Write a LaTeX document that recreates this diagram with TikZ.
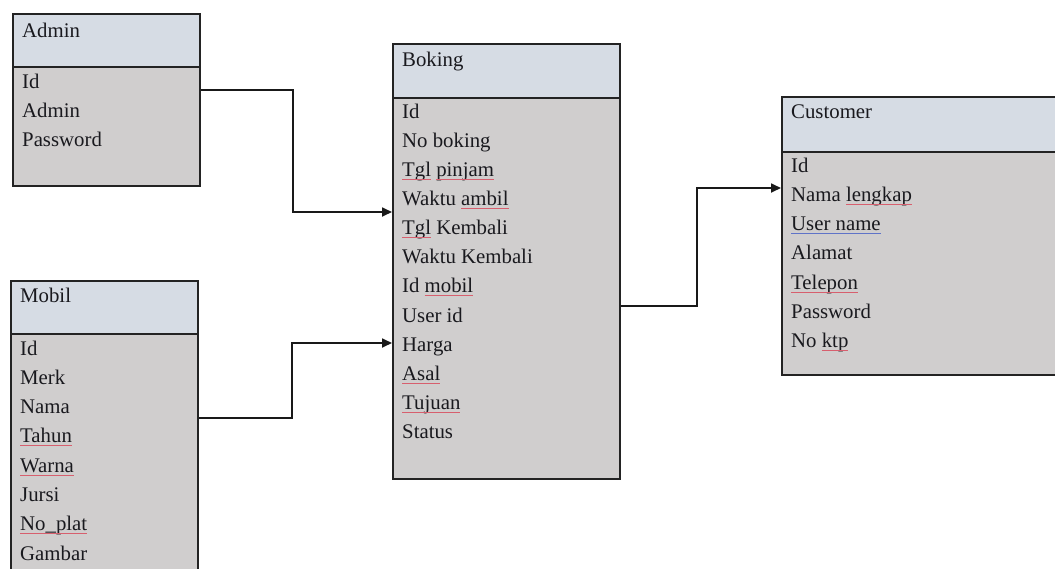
\documentclass[tikz,border=0pt]{standalone}
\usepackage{fontspec}
\setmainfont{Liberation Serif}
\usetikzlibrary{arrows.meta}
\definecolor{hdrfill}{RGB}{214,220,228}
\definecolor{bodyfill}{RGB}{208,206,206}
\definecolor{edgecol}{RGB}{35,35,35}
\definecolor{txtcol}{RGB}{25,25,30}
\definecolor{spellred}{RGB}{215,95,110}
\definecolor{spellblue}{RGB}{95,115,200}
\newsavebox\ulbox
\newcommand\redul[1]{\mbox{}\sbox\ulbox{#1}\usebox\ulbox\llap{\textcolor{spellred}{\rule[-3.5pt]{\wd\ulbox}{1pt}}}}
\newcommand\blueul[1]{\mbox{}\sbox\ulbox{#1}\usebox\ulbox\llap{\textcolor{spellblue}{\rule[-3.5pt]{\wd\ulbox}{1pt}}}}
\begin{document}
\begin{tikzpicture}[x=1pt,y=-1pt,
  boxpart/.style={draw=edgecol, line width=2pt, anchor=north west, inner sep=0pt},
  hdr/.style={boxpart, fill=hdrfill},
  body/.style={boxpart, fill=bodyfill},
  txt/.style={anchor=base west, inner sep=0pt, font=\fontsize{20.8}{25}\selectfont\color{txtcol}},
  conn/.style={draw=black!90, line width=1.7pt},
  arr/.style={conn, -{Triangle[length=10pt,width=9pt]}}]
\useasboundingbox (0,0) rectangle (1055,568);
\clip (0,0) rectangle (1055,568);

% Admin
\node[body, minimum width=187pt, minimum height=119pt] (adminB) at (12,66) {};
\node[hdr, minimum width=187pt, minimum height=53pt] (adminH) at (12,13) {};
\node[txt] (adminT) at (22,37) {Admin};
\foreach \t [count=\i from 0] in {Id,Admin,Password}
  \node[txt] (adminA\i) at (22,{88+29.3*\i}) {\t};

% Mobil
\node[body, minimum width=187pt, minimum height=260pt] (mobilB) at (10,333) {};
\node[hdr, minimum width=187pt, minimum height=53pt] (mobilH) at (10,280) {};
\node[txt] (mobilT) at (20,302) {Mobil};
\foreach \t [count=\i from 0] in {Id,Merk,Nama,{\redul{Tahun}},{\redul{Warna}},Jursi,{\redul{No\_plat}},Gambar}
  \node[txt] (mobilA\i) at (20,{355+29.3*\i}) {\t};

% Boking
\node[body, minimum width=227pt, minimum height=381pt] (bokingB) at (392,97) {};
\node[hdr, minimum width=227pt, minimum height=54pt] (bokingH) at (392,43) {};
\node[txt] (bokingT) at (402,66) {Boking};
\foreach \t [count=\i from 0] in {Id,No boking,{\redul{Tgl} \redul{pinjam}},{Waktu \redul{ambil}},{\redul{Tgl} Kembali},Waktu Kembali,{Id \redul{mobil}},User id,Harga,{\redul{Asal}},{\redul{Tujuan}},Status}
  \node[txt] (bokingA\i) at (402,{118+29.15*\i}) {\t};

% Customer
\node[body, minimum width=300pt, minimum height=223pt] (custB) at (781,151) {};
\node[hdr, minimum width=300pt, minimum height=55pt] (custH) at (781,96) {};
\node[txt] (custT) at (791,118) {Customer};
\foreach \t [count=\i from 0] in {Id,{Nama \redul{lengkap}},{\blueul{User name}},Alamat,{\redul{Telepon}},Password,{No \redul{ktp}}}
  \node[txt] (custA\i) at (791,{172+29.3*\i}) {\t};

% Connectors
\draw[arr] (adminB.east |- 0,90) -- (293,90) -- (293,212) -- (bokingB.west |- 0,212);
\draw[arr] (mobilB.east |- 0,418) -- (292,418) -- (292,343) -- (bokingB.west |- 0,343);
\draw[arr] (bokingB.east |- 0,306) -- (697,306) -- (697,188) -- (custB.west |- 0,188);
\end{tikzpicture}
\end{document}
